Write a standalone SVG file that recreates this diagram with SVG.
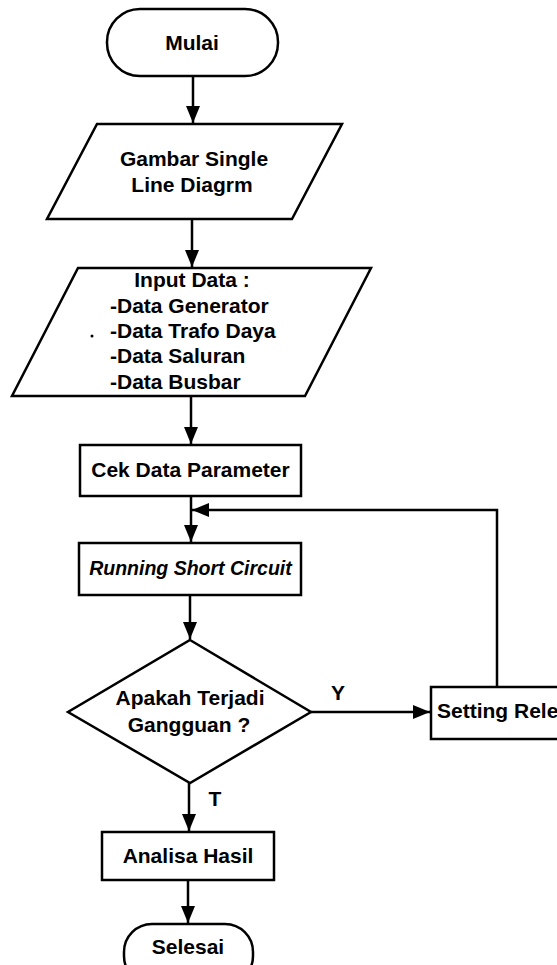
<svg xmlns="http://www.w3.org/2000/svg" width="557" height="965" viewBox="0 0 557 965">
  <style>
    .shape { fill: #ffffff; stroke: #000000; stroke-width: 2.5; stroke-linejoin: miter; }
    .line { fill: none; stroke: #000000; stroke-width: 2.5; }
    text { font-family: "Liberation Sans", Arial, sans-serif; font-size: 21px; font-weight: bold; fill: #000000; }
    .c { text-anchor: middle; }
    .it { font-style: italic; font-size: 19.5px; }
  </style>
  <defs>
    <marker id="arrow" markerUnits="userSpaceOnUse" markerWidth="18" markerHeight="14" refX="17" refY="7" orient="auto">
      <path d="M0,0 L17,7 L0,14 Z" fill="#000000"/>
    </marker>
  </defs>
  <rect width="557" height="965" fill="#ffffff"/>

  <!-- connectors -->
  <g id="connectors">
    <line class="line" x1="193" y1="76" x2="193" y2="123" marker-end="url(#arrow)"/>
    <line class="line" x1="192" y1="219" x2="192" y2="267" marker-end="url(#arrow)"/>
    <line class="line" x1="191" y1="396" x2="191" y2="444" marker-end="url(#arrow)"/>
    <line class="line" x1="191" y1="496" x2="191" y2="542" marker-end="url(#arrow)"/>
    <line class="line" x1="190" y1="595" x2="190" y2="639" marker-end="url(#arrow)"/>
    <line class="line" x1="311" y1="712" x2="430" y2="712" marker-end="url(#arrow)"/>
    <polyline class="line" points="497,687 497,510 192,510" marker-end="url(#arrow)"/>
    <line class="line" x1="189" y1="783" x2="189" y2="831" marker-end="url(#arrow)"/>
    <line class="line" x1="188" y1="880" x2="188" y2="923" marker-end="url(#arrow)"/>
    <text x="338" y="700" class="c">Y</text>
    <text x="215" y="806" class="c">T</text>
  </g>

  <!-- start terminator -->
  <g id="mulai">
    <rect class="shape" x="107" y="9" width="171" height="67" rx="33" ry="33"/>
    <text x="192" y="50" class="c">Mulai</text>
  </g>

  <!-- single line diagram input -->
  <g id="gambar">
    <polygon class="shape" points="97,124 342,124 292,219 47,219"/>
    <text x="194" y="166" class="c">Gambar Single</text>
    <text x="192" y="192" class="c">Line Diagrm</text>
  </g>

  <!-- data input -->
  <g id="input-data">
    <polygon class="shape" points="78,268 371,268 305,396 12,396"/>
    <text x="192" y="287" class="c">Input Data :</text>
    <text x="110" y="313">-Data Generator</text>
    <text x="110" y="338">-Data Trafo Daya</text>
    <text x="110" y="363">-Data Saluran</text>
    <text x="110" y="389">-Data Busbar</text>
    <circle cx="92" cy="336" r="1.5" fill="#000000"/>
  </g>

  <!-- parameter check -->
  <g id="cek-data">
    <rect class="shape" x="80" y="445" width="221" height="51"/>
    <text x="190.5" y="477" class="c">Cek Data Parameter</text>
  </g>

  <!-- short circuit run -->
  <g id="running">
    <rect class="shape" x="79" y="543" width="222" height="52"/>
    <text x="190.5" y="575" class="c it">Running Short Circuit</text>
  </g>

  <!-- fault decision -->
  <g id="keputusan">
    <polygon class="shape" points="190,640 311,712 190,783 68,712"/>
    <text x="190" y="705" class="c">Apakah Terjadi</text>
    <text x="189" y="732" class="c">Gangguan ?</text>
  </g>

  <!-- relay setting -->
  <g id="setting-rele">
    <rect class="shape" x="431" y="687" width="140" height="52"/>
    <text x="437" y="718">Setting Rele</text>
  </g>

  <!-- result analysis -->
  <g id="analisa">
    <rect class="shape" x="102" y="832" width="172" height="48"/>
    <text x="188" y="863" class="c">Analisa Hasil</text>
  </g>

  <!-- end terminator -->
  <g id="selesai">
    <rect class="shape" x="124" y="924" width="129" height="60" rx="28" ry="28"/>
    <text x="188" y="954" class="c">Selesai</text>
  </g>
</svg>
